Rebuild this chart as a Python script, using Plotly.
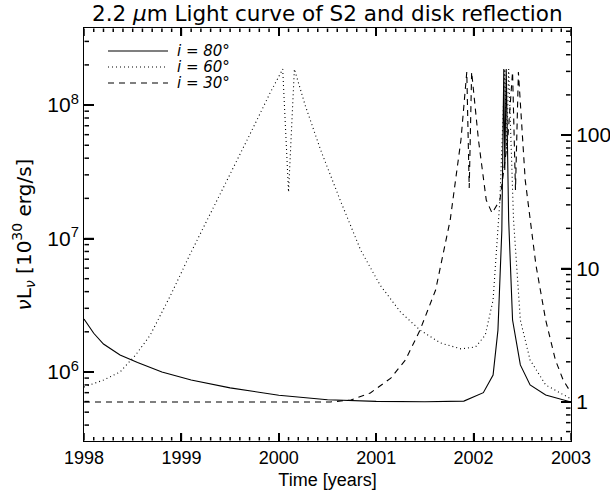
import numpy as np
import plotly.graph_objects as go

# ---------------- data (time in years, nu L_nu in units of 1e30 erg/s) ----------------
t80 = [1998.00, 1998.10, 1998.20, 1998.37, 1998.55, 1998.80, 1999.10, 1999.50, 2000.00,
       2000.50, 2001.00, 2001.50, 2001.90, 2002.10, 2002.20, 2002.25, 2002.29, 2002.31,
       2002.32, 2002.335, 2002.36, 2002.40, 2002.48, 2002.58, 2002.74, 2003.00]
L80 = [2.49e6, 1.95e6, 1.62e6, 1.34e6, 1.18e6, 1.0e6, 8.7e5, 7.6e5, 6.7e5,
       6.2e5, 6.02e5, 5.98e5, 6.05e5, 7.0e5, 9.5e5, 2.06e6, 1.16e7, 1.86e8,
       3.26e7, 1.86e8, 1.38e7, 2.45e6, 1.13e6, 8.0e5, 6.73e5, 5.96e5]

t60 = [1998.00, 1998.20, 1998.37, 1998.53, 1998.68, 1998.89, 1999.09, 1999.30, 1999.50,
       1999.71, 1999.91, 2000.04, 2000.10, 2000.16, 2000.27, 2000.43, 2000.63, 2000.84,
       2001.04, 2001.25, 2001.45, 2001.66, 2001.87, 2002.02, 2002.12, 2002.20, 2002.27,
       2002.32, 2002.34, 2002.36, 2002.41, 2002.48, 2002.58, 2002.74, 2003.00]
L60 = [7.72e5, 8.7e5, 1.0e6, 1.34e6, 1.89e6, 3.77e6, 7.65e6, 1.53e7, 3.04e7,
       6.17e7, 1.23e8, 1.86e8, 2.23e7, 1.86e8, 1.0e8, 4.6e7, 1.94e7, 8.2e6,
       4.48e6, 2.81e6, 2.06e6, 1.65e6, 1.49e6, 1.54e6, 1.89e6, 3.46e6, 1.94e7,
       1.86e8, 4.6e7, 1.86e8, 1.38e7, 2.45e6, 1.23e6, 8.0e5, 6.28e5]

t30 = [1998.00, 2000.53, 2000.74, 2000.94, 2001.15, 2001.30, 2001.45, 2001.61, 2001.76,
       2001.87, 2001.93, 2001.955, 2001.98, 2002.05, 2002.13, 2002.19, 2002.27, 2002.35,
       2002.40, 2002.43, 2002.46, 2002.53, 2002.64, 2002.74, 2002.84, 2002.92, 2003.00]
L30 = [5.96e5, 5.96e5, 6.17e5, 6.97e5, 9.0e5, 1.23e6, 2.06e6, 4.11e6, 1.38e7,
       5.47e7, 1.77e8, 2.39e7, 1.77e8, 5.47e7, 1.94e7, 1.55e7, 1.94e7, 5.47e7,
       1.77e8, 2.31e7, 1.77e8, 2.74e7, 6.33e6, 2.45e6, 1.23e6, 8.7e5, 6.97e5]

labels = ["<i>i</i> = <i>80°</i>", "<i>i</i> = <i>60°</i>", "<i>i</i> = <i>30°</i>"]
dashes = ["solid", "1px,3px", "6px,5px"]

year_ticks = [1998, 1999, 2000, 2001, 2002, 2003]
left_ticks = [1e6, 1e7, 1e8]
left_ticktext = ["10<sup>6</sup>", "10<sup>7</sup>", "10<sup>8</sup>"]
right_ticks = [1, 10, 100]
right_ticktext = ["1", "10", "100"]
norm = 5.96e5              # baseline luminosity used for the right-hand axis
y_lo, y_hi = 3.04e5, 3.78e8
x_lo, x_hi = 1998, 2003

# ---------------- figure ----------------
W, H = 610, 495
ML, MR, MT, MB = 84, 39, 28, 54
plot_w, plot_h = W - ML - MR, H - MT - MB
ly_lo, ly_hi = np.log10(y_lo), np.log10(y_hi)

fig = go.Figure()
series = [(t80, L80), (t60, L60), (t30, L30)]
for (t, L), name, d in zip(series, labels, dashes):
    fig.add_trace(go.Scatter(x=t, y=L, mode="lines", name=name, showlegend=False,
                             line=dict(color="black", width=1.1, dash=d)))

# invisible anchor so the right-hand (normalised) axis is drawn
fig.add_trace(go.Scatter(x=[t30[0]], y=[L30[0] / norm], yaxis="y2", mode="markers",
                         marker=dict(opacity=0), showlegend=False, hoverinfo="skip"))

x_minor = [float(v) for v in np.round(np.arange(1998.1, 2003.0, 0.1), 2)
           if abs(v - round(v)) > 1e-6]
left_minor = [float(m * 10 ** e) for e in range(5, 9) for m in range(2, 10)
              if y_lo <= m * 10 ** e <= y_hi]
r_lo, r_hi = y_lo / norm, y_hi / norm
right_minor = [float(m * 10.0 ** e) for e in range(-1, 3) for m in range(2, 10)
               if r_lo <= m * 10.0 ** e <= r_hi]


def px_to_y(p):          # pixel offset from the bottom of the box -> data value
    return float(10 ** (ly_lo + p / plot_h * (ly_hi - ly_lo)))


def px_to_x(p):          # pixel offset from the left of the box -> year
    return float(x_lo + p / plot_w * (x_hi - x_lo))


# ---- inward tick marks: one short line trace per tick on the main axes ----
tick_segments = []
for v, ln in [(v, 8) for v in year_ticks] + [(v, 4) for v in x_minor]:
    tick_segments.append(([v, v], [px_to_y(0.5), px_to_y(ln)]))
    tick_segments.append(([v, v], [px_to_y(plot_h - 0.5), px_to_y(plot_h - ln)]))
for v, ln in [(v, 10) for v in left_ticks] + [(v, 5) for v in left_minor]:
    tick_segments.append(([px_to_x(0.5), px_to_x(ln)], [v, v]))
for v, ln in [(v, 10) for v in right_ticks] + [(v, 5) for v in right_minor]:
    tick_segments.append(([px_to_x(plot_w - 0.5), px_to_x(plot_w - ln)],
                          [v * norm, v * norm]))
for sx, sy in tick_segments:
    fig.add_trace(go.Scatter(x=sx, y=sy, mode="lines", showlegend=False,
                             hoverinfo="skip", cliponaxis=False,
                             line=dict(color="black", width=1.5)))

tickfont_y = dict(family="Liberation Sans", size=21, color="black")
tickfont_x = dict(family="Liberation Sans", size=18, color="black")
common = dict(showgrid=False, zeroline=False, automargin=False,
              ticks="inside", tickcolor="black", tickwidth=1.5)

fig.update_layout(
    template="none",
    width=W, height=H,
    margin=dict(l=ML, r=MR, t=MT, b=MB, autoexpand=False),
    paper_bgcolor="white", plot_bgcolor="white",
    xaxis=dict(range=[x_lo, x_hi], tickmode="array", tickvals=year_ticks,
               ticktext=[str(v) for v in year_ticks], ticklen=8,
               showline=True, linecolor="black", linewidth=1, mirror="ticks",
               tickfont=tickfont_x, layer="above traces",
               title=dict(text="Time [years]", standoff=6,
                          font=dict(family="Liberation Sans", size=18, color="black")),
               **common),
    yaxis=dict(type="log", range=[ly_lo, ly_hi],
               tickmode="array", tickvals=left_ticks, ticktext=left_ticktext, ticklen=10,
               showline=True, linecolor="black", linewidth=1, mirror=False,
               tickfont=tickfont_y, layer="above traces",
               title=dict(text="<i>ν</i>L<sub><i>ν</i></sub> [10<sup>30</sup> erg/s]",
                          standoff=10,
                          font=dict(family="DejaVu Sans", size=20, color="black")),
               **common),
    yaxis2=dict(type="log", range=[np.log10(r_lo), np.log10(r_hi)], overlaying="y",
                side="right", anchor="x", ticklen=10,
                tickmode="array", tickvals=right_ticks, ticktext=right_ticktext,
                showline=True, linecolor="black", linewidth=1,
                tickfont=tickfont_y, **common),
    showlegend=False,
)

# title (centred on the plot area)
fig.add_annotation(xref="paper", yref="paper", x=0.5, y=1 + (MT - 13) / plot_h,
                   text="2.2 <i>μ</i>m Light curve of S2 and disk reflection",
                   showarrow=False, xanchor="center", yanchor="middle",
                   font=dict(family="DejaVu Sans", size=21.5, color="black"))

# legend drawn inside the plot (top-left)
row_px = [51, 67, 83]
for lab, d, ypx in zip(labels, dashes, row_px):
    yp = (H - MB - ypx) / plot_h
    fig.add_shape(type="line", xref="paper", yref="paper",
                  x0=(108 - ML) / plot_w, x1=(168 - ML) / plot_w, y0=yp, y1=yp,
                  line=dict(color="black", width=1.1, dash=d))
    fig.add_annotation(xref="paper", yref="paper", x=(175 - ML) / plot_w, y=yp,
                       text=lab, showarrow=False, xanchor="left", yanchor="middle",
                       font=dict(family="DejaVu Sans", size=15, color="black"))

fig.write_html("out.html")
